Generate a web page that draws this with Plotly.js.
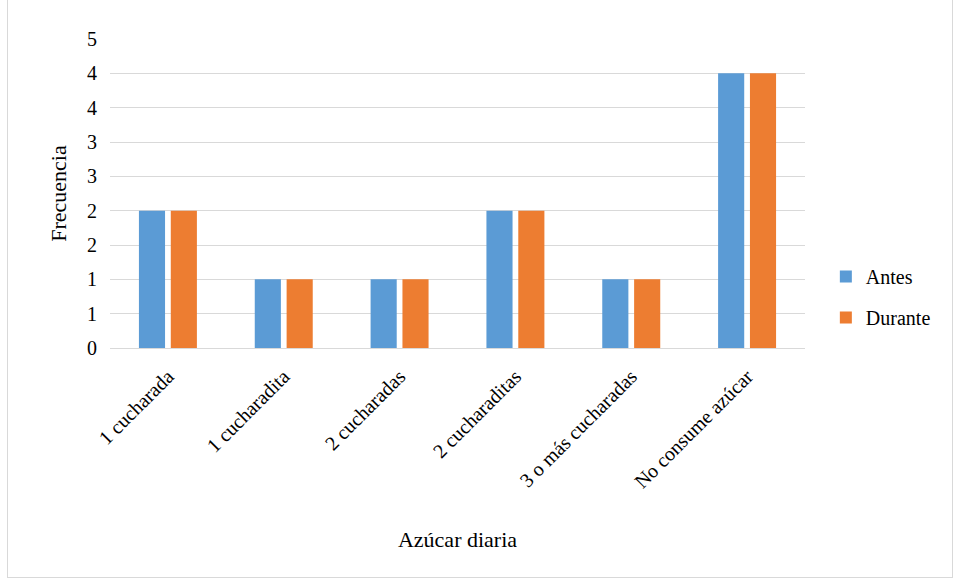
<!DOCTYPE html>
<html>
<head>
<meta charset="utf-8">
<script src="https://cdn.plot.ly/plotly-3.0.1.min.js"></script>
<style>
html,body{margin:0;padding:0;background:#fff;}
#frame{position:absolute;left:7px;top:-2px;width:946px;height:580px;border:1px solid #d9d9d9;box-sizing:border-box;}
#chart{position:absolute;left:0;top:0;width:956px;height:579px;}
</style>
</head>
<body>
<div id="frame"></div>
<div id="chart"></div>
<script>
const categories = ["1 cucharada","1 cucharadita","2 cucharadas","2 cucharaditas","3 o más cucharadas","No consume azúcar"];
const antes = [2,1,1,2,1,4];
const durante = [2,1,1,2,1,4];
const yTickVals = [0,0.5,1,1.5,2,2.5,3,3.5,4,4.5];
const yTickText = ["0","1","1","2","2","3","3","4","4","5"];

const fam = "Times New Roman, Liberation Serif, DejaVu Serif, serif";
const font = {family:fam, size:20, color:"#000"};
const titleFont = {family:fam, size:22, color:"#000"};

const data = [
  {type:"bar", name:"Antes", legendgroup:"a", x:categories, y:antes, marker:{color:"#5b9bd5"}},
  {type:"bar", name:"Durante", legendgroup:"b", x:categories, y:durante, marker:{color:"#ed7d31"}}
];

const layout = {
  width:956, height:579,
  margin:{l:110, r:151, t:39, b:231},
  paper_bgcolor:"rgba(0,0,0,0)", plot_bgcolor:"rgba(0,0,0,0)",
  font:font,
  barmode:"group", bargap:0.45, bargroupgap:0.18,
  xaxis:{
    type:"category", tickangle:-45, tickfont:font,
    showgrid:false, showline:true, linecolor:"#d9d9d9", linewidth:1,
    ticks:"outside", ticklen:8, tickcolor:"rgba(0,0,0,0)",
    title:{text:"Azúcar diaria", font:titleFont, standoff:40}
  },
  yaxis:{
    range:[0,4.5], tickmode:"array", tickvals:yTickVals, ticktext:yTickText,
    tickfont:font, showgrid:true, gridcolor:"#d9d9d9", gridwidth:1,
    zeroline:false, showline:false, ticks:"outside", ticklen:8, tickcolor:"rgba(0,0,0,0)",
    title:{text:"Frecuencia", font:titleFont, standoff:14}
  },
  legend:{x:1.03, y:0.165, xanchor:"left", yanchor:"middle", font:font, tracegroupgap:12, itemwidth:30, bgcolor:"rgba(0,0,0,0)"},
  showlegend:true
};

Plotly.newPlot("chart", data, layout, {displayModeBar:false, staticPlot:true});
</script>
</body>
</html>
